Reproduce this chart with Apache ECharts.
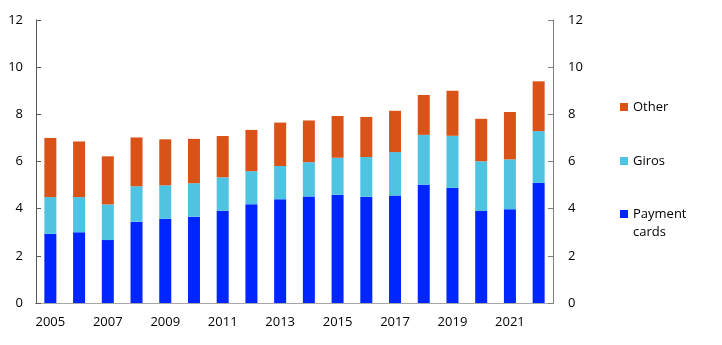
<!DOCTYPE html>
<html>
<head>
<meta charset="utf-8">
<script src="https://cdn.jsdelivr.net/npm/echarts@6/dist/echarts.min.js"></script>
<style>
  html, body { margin: 0; padding: 0; background: #fff; }
  #chart { width: 722px; height: 345px; }
</style>
</head>
<body>
<div id="chart"></div>
<script>
const years = ["2005", "2006", "2007", "2008", "2009", "2010", "2011", "2012", "2013",
  "2014", "2015", "2016", "2017", "2018", "2019", "2020", "2021", "2022"];
const paymentCards = [2.93, 3.0, 2.67, 3.45, 3.57, 3.66, 3.91, 4.19, 4.4,
  4.52, 4.59, 4.5, 4.56, 5.01, 4.88, 3.9, 3.98, 5.09];
const giros = [1.56, 1.49, 1.51, 1.5, 1.42, 1.42, 1.42, 1.4, 1.41,
  1.45, 1.57, 1.69, 1.84, 2.12, 2.21, 2.11, 2.11, 2.2];
const other = [2.51, 2.36, 2.04, 2.07, 1.95, 1.88, 1.75, 1.75, 1.84,
  1.77, 1.77, 1.7, 1.75, 1.69, 1.91, 1.8, 2.01, 2.11];
const yTicks = { min: 0, max: 12, interval: 2 };

const colCards = "#0026FF";
const colGiros = "#4EC3E2";
const colOther = "#D95319";
const font = "'Open Sans', 'Noto Sans', sans-serif";

const chart = echarts.init(document.getElementById("chart"), null, { renderer: "canvas" });

function legendAt(top, name) {
  return {
    orient: "vertical",
    left: 615,
    top: top,
    itemWidth: 8,
    itemHeight: 8,
    icon: "rect",
    selectedMode: false,
    data: [name],
    formatter: n => (n === "Payment cards" ? "\nPayment\ncards" : n),
    textStyle: { fontFamily: font, fontSize: 13, color: "#000", lineHeight: 18 },
  };
}

const option = {
  animation: false,
  grid: { left: 36, right: 169, top: 20, bottom: 42, containLabel: false },
  legend: [
    legendAt(93, "Other"),
    legendAt(147, "Giros"),
    legendAt(182, "Payment cards"),
  ],
  xAxis: [
    {
      type: "category",
      data: years,
      axisLine: { lineStyle: { color: "#000", width: 1 } },
      axisTick: { inside: true, length: 5, interval: 0, lineStyle: { color: "#595959" } },
      axisLabel: {
        interval: 1,
        margin: 13,
        fontFamily: font,
        fontSize: 13,
        color: "#000",
      },
    },
    {
      type: "category",
      data: years,
      position: "top",
      axisLine: { lineStyle: { color: "#a6a6a6" } },
      axisTick: { show: false },
      axisLabel: { show: false },
    },
  ],
  yAxis: [
    {
      type: "value",
      position: "left",
      min: yTicks.min,
      max: yTicks.max,
      interval: yTicks.interval,
      axisLine: { show: true, lineStyle: { color: "#595959" } },
      axisTick: { show: true, inside: true, length: 5, lineStyle: { color: "#595959" } },
      splitLine: { show: false },
      axisLabel: { margin: 13, fontFamily: font, fontSize: 13, color: "#000" },
    },
    {
      type: "value",
      position: "right",
      min: yTicks.min,
      max: yTicks.max,
      interval: yTicks.interval,
      axisLine: { show: true, lineStyle: { color: "#7f7f7f" } },
      axisTick: { show: true, inside: true, length: 5, lineStyle: { color: "#7f7f7f" } },
      splitLine: { show: false },
      axisLabel: { margin: 15, fontFamily: font, fontSize: 13, color: "#000" },
    },
  ],
  series: [
    {
      name: "Payment cards",
      type: "bar",
      stack: "total",
      barWidth: 12,
      data: paymentCards,
      itemStyle: { color: colCards },
    },
    {
      name: "Giros",
      type: "bar",
      stack: "total",
      barWidth: 12,
      data: giros,
      itemStyle: { color: colGiros },
    },
    {
      name: "Other",
      type: "bar",
      stack: "total",
      barWidth: 12,
      data: other,
      itemStyle: { color: colOther },
    },
  ],
};

chart.setOption(option);
</script>
</body>
</html>
